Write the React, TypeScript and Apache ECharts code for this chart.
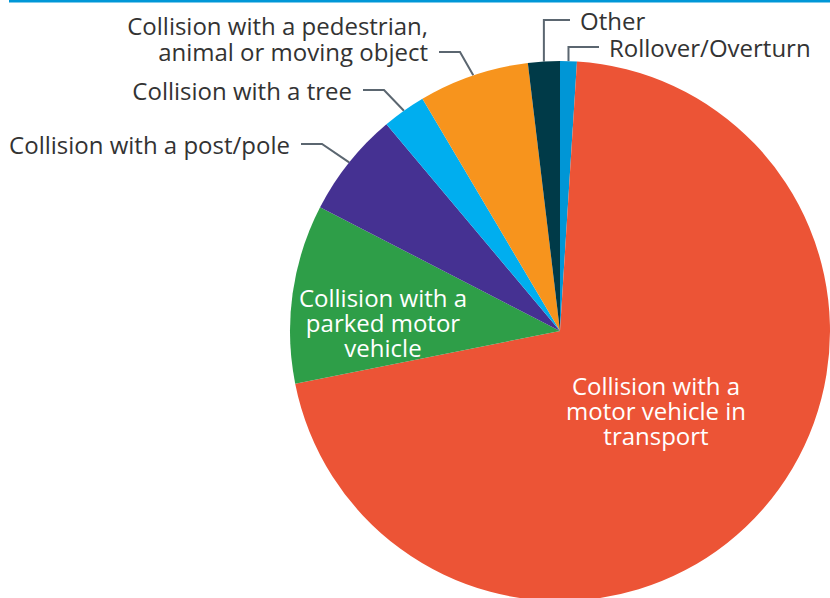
import React, { useEffect, useRef } from "react";
import * as echarts from "echarts";

const categories = [
  "Rollover/Overturn",
  "Collision with a\nmotor vehicle in\ntransport",
  "Collision with a\nparked motor\nvehicle",
  "Collision with a post/pole",
  "Collision with a tree",
  "Collision with a pedestrian,\nanimal or moving object",
  "Other",
];
const values = [1.0, 70.8, 10.7, 6.3, 2.6, 6.6, 1.9];
const colors = ["#0096D6", "#EC5436", "#2E9E48", "#453192", "#00AEEF", "#F7941D", "#003A48"];
const insideLabel = [false, true, true, false, false, false, false];

// label anchor placements (layout only)
const labelPlace: Record<number, { x: number; y: number; align: string; lineY?: number }> = {
  0: { x: 609, y: 47, align: "left" },
  1: { x: 656, y: 410, align: "center" },
  2: { x: 383, y: 322, align: "center" },
  3: { x: 290, y: 144, align: "right" },
  4: { x: 352, y: 90, align: "right" },
  5: { x: 428, y: 38, align: "right", lineY: 52 },
  6: { x: 580, y: 20, align: "left" },
};

export default function App() {
  const ref = useRef<HTMLDivElement>(null);
  useEffect(() => {
    if (!ref.current) return;
    const chart = echarts.init(ref.current, undefined, { renderer: "svg" });
    const font = "'Open Sans', 'Noto Sans', sans-serif";
    chart.setOption({
      animation: false,
      graphic: [
        { type: "rect", shape: { x: 9, y: 0, width: 821, height: 2.5 }, style: { fill: "#0097D7" } },
      ],
      series: [
        {
          type: "pie",
          center: [560, 331],
          radius: 270,
          startAngle: 90,
          clockwise: true,
          avoidLabelOverlap: false,
          itemStyle: { borderWidth: 0 },
          label: {
            show: true,
            position: "outside",
            fontFamily: font,
            fontSize: 24,
            lineHeight: 26,
            color: "#333333",
          },
          labelLine: {
            show: true,
            length: 10,
            length2: 10,
            lineStyle: { color: "#5B6670", width: 2 },
          },
          labelLayout: (params: any) => {
            const p = labelPlace[params.dataIndex];
            if (!p) return {};
            const res: any = { x: p.x, y: p.y, align: p.align, verticalAlign: "middle" };
            if (!insideLabel[params.dataIndex] && params.labelLinePoints) {
              const edge = params.labelLinePoints[0];
              const ly = p.lineY ?? p.y;
              if (p.align === "right") {
                res.labelLinePoints = [
                  [edge[0], edge[1]],
                  [p.x + 32, ly],
                  [p.x + 11, ly],
                ];
              } else {
                res.labelLinePoints = [
                  [edge[0], edge[1]],
                  [edge[0], ly],
                  [p.x - 10, ly],
                ];
              }
            }
            return res;
          },
          data: categories.map((name, i) => ({
            name,
            value: values[i],
            itemStyle: { color: colors[i] },
            label: insideLabel[i]
              ? { position: "inside", color: "#ffffff", align: "center", lineHeight: 25 }
              : { position: "outside" },
            labelLine: { show: !insideLabel[i] },
          })),
        },
      ],
    });
    return () => chart.dispose();
  }, []);
  return (
    <div
      ref={ref}
      style={{ position: "fixed", left: 0, top: 0, width: 830, height: 598, background: "#fff" }}
    />
  );
}
